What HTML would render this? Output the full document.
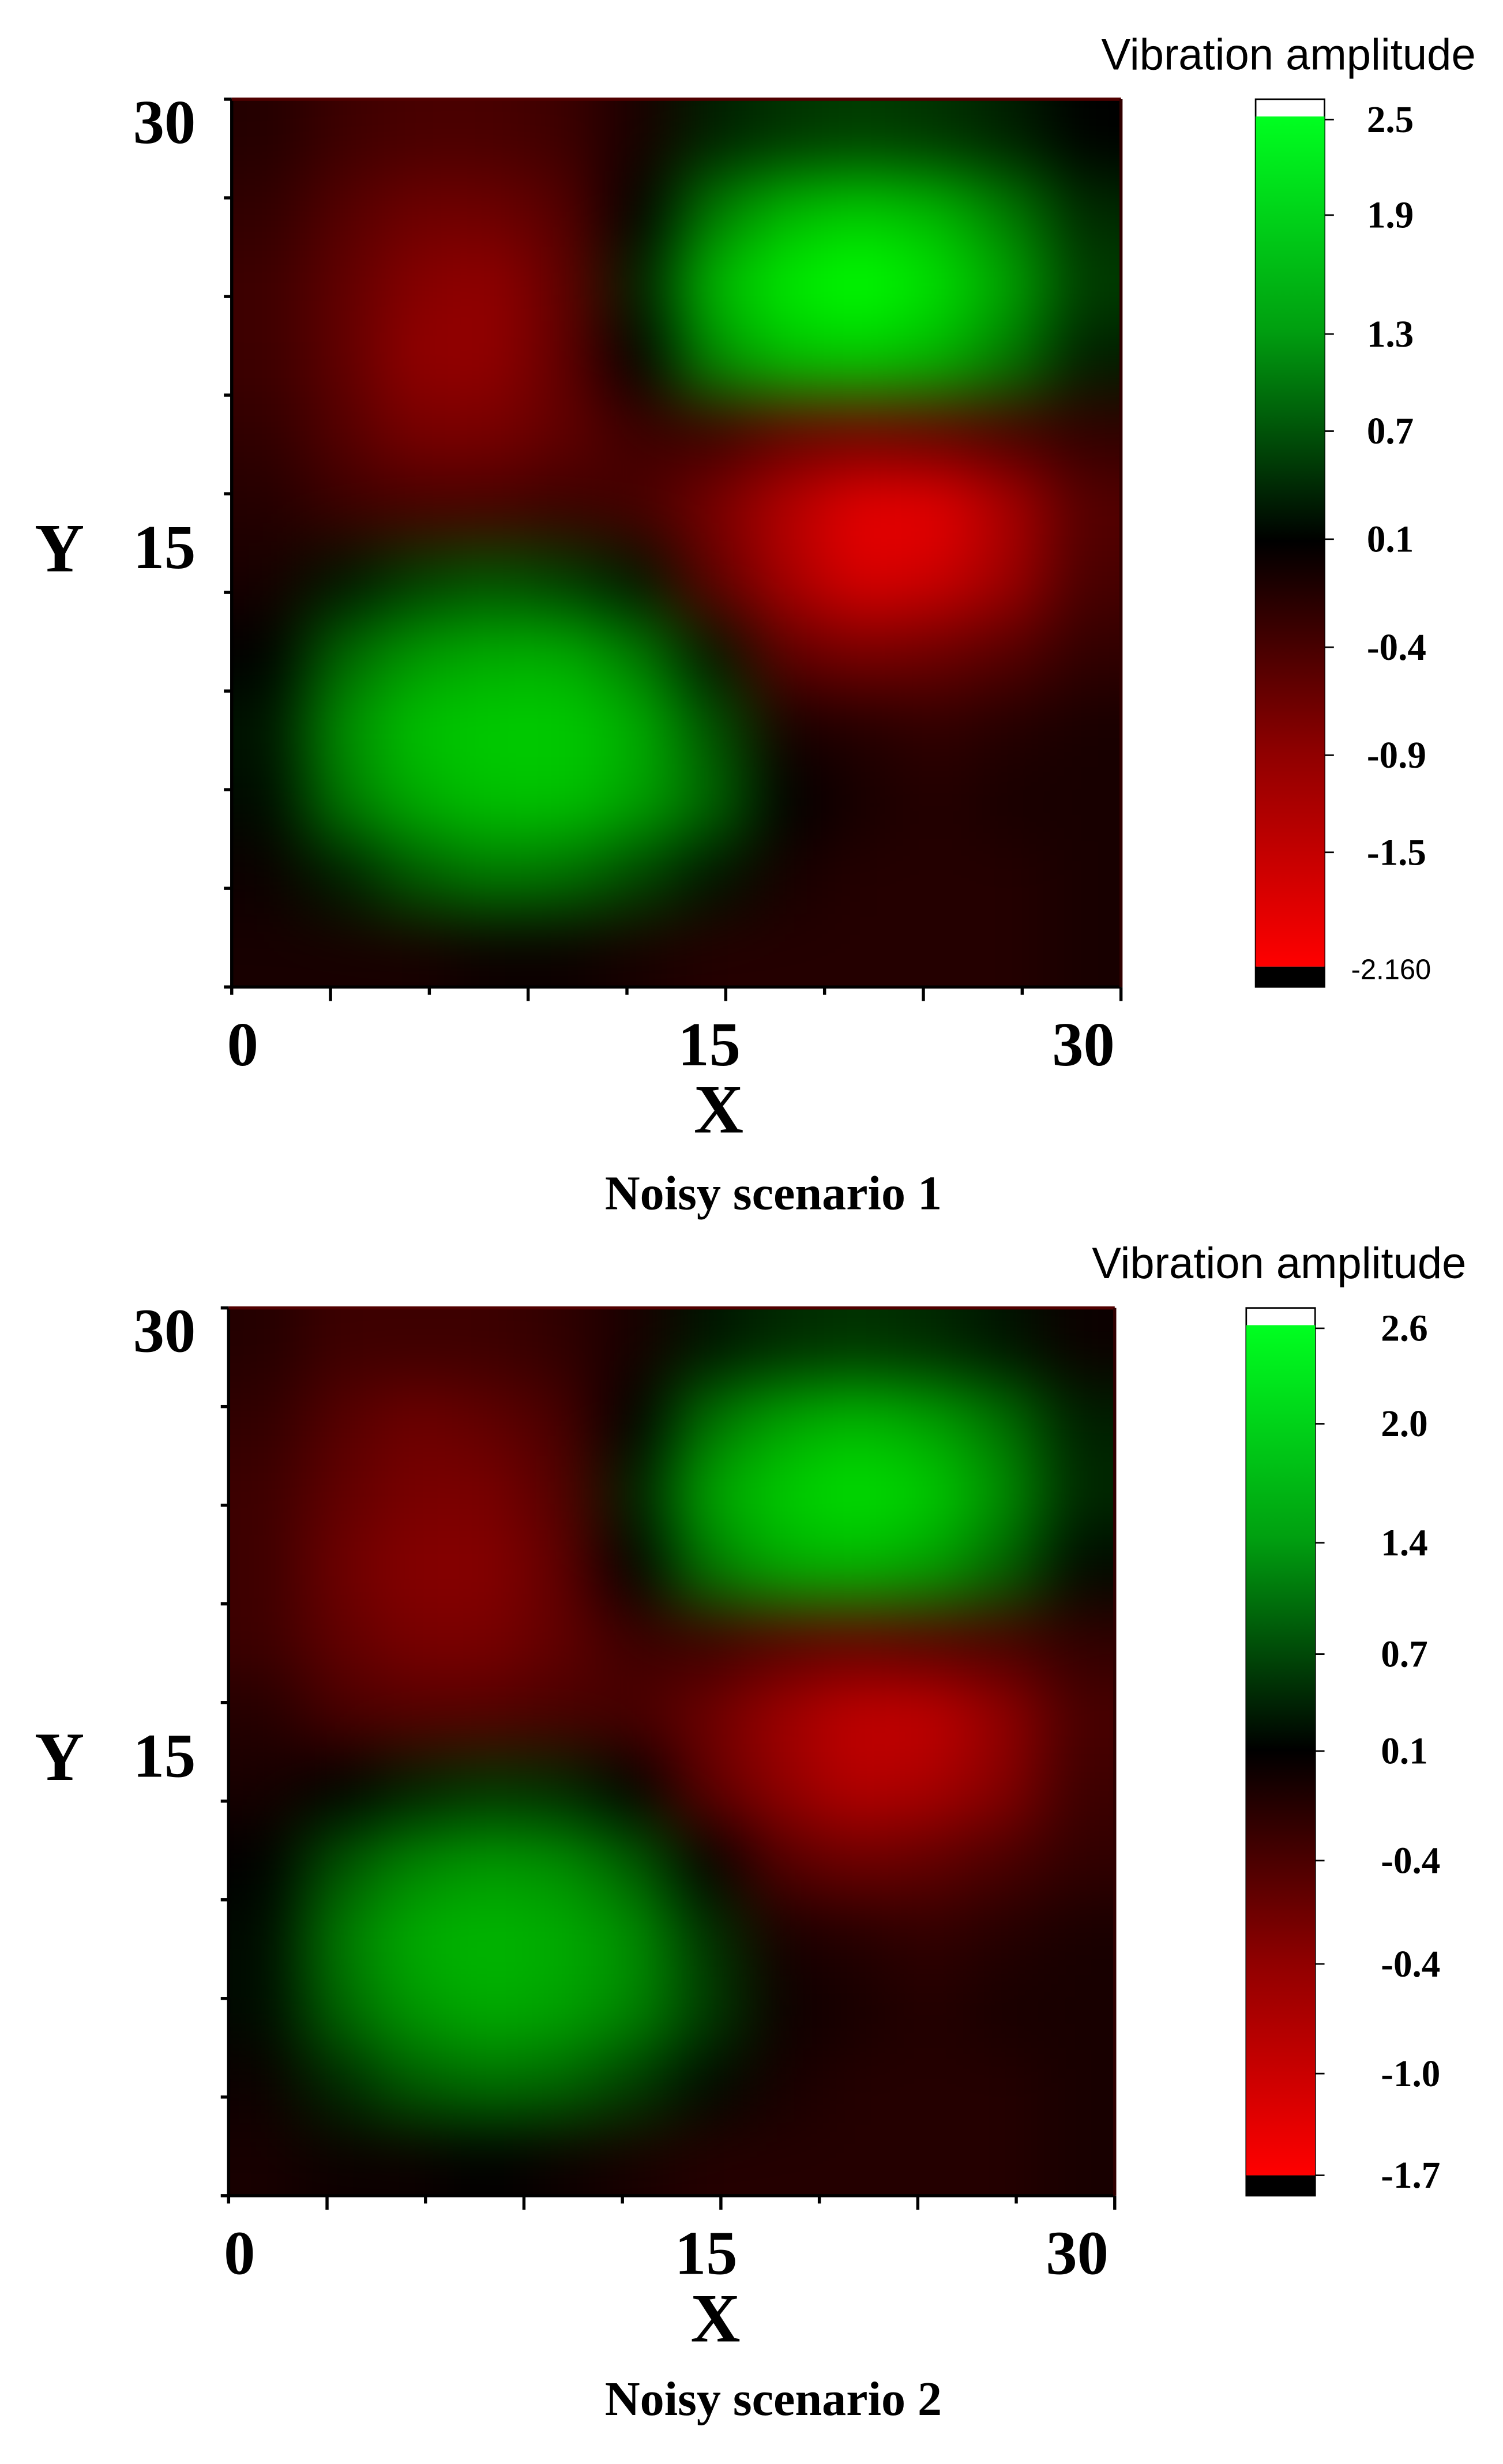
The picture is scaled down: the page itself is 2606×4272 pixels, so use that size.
<!DOCTYPE html>
<html><head><meta charset="utf-8"><style>
html,body{margin:0;padding:0;background:#fff;}
svg{display:block;}
.ax{font-family:"Liberation Serif",serif;font-weight:bold;fill:#000;}
.cb{font-family:"Liberation Serif",serif;font-weight:bold;font-size:24px;fill:#000;}
.tt{font-family:"Liberation Sans",sans-serif;fill:#000;}
</style></head><body>
<svg id="root" width="2606" height="4272" viewBox="0 0 960 1573" xmlns="http://www.w3.org/2000/svg">
<defs>
<filter id="blur" x="-20%" y="-20%" width="140%" height="140%" color-interpolation-filters="sRGB"><feGaussianBlur stdDeviation="20"/></filter>
<linearGradient id="cbg" x1="0" y1="0" x2="0" y2="1">
<stop offset="0" stop-color="#00ff20"/><stop offset="0.25" stop-color="#00a010"/><stop offset="0.5" stop-color="#000"/><stop offset="0.75" stop-color="#900000"/><stop offset="1" stop-color="#ff0000"/>
</linearGradient>
</defs>
</svg>
<script>
const grid1 = [
[-0.3,-0.5,-0.6,-0.6,-0.5,-0.2,0.3,0.5,0.6,0.5,0.3,0],
[-0.4,-0.7,-0.9,-0.9,-0.7,0,1.2,1.8,2.0,1.8,1.2,0.4],
[-0.5,-0.8,-1.1,-1.2,-0.8,0.3,1.8,2.3,2.5,2.2,1.6,0.6],
[-0.5,-0.8,-1.2,-1.2,-0.8,0,1.4,1.9,2.0,1.8,1.2,0.3],
[-0.4,-0.7,-1.0,-1.0,-0.8,-0.5,-0.5,-0.8,-0.9,-0.8,-0.6,-0.4],
[-0.3,-0.5,-0.6,-0.6,-0.5,-0.6,-1.0,-1.5,-1.9,-1.9,-1.4,-0.7],
[-0.2,0.2,0.6,0.8,0.6,0.2,-0.8,-1.4,-1.8,-1.7,-1.3,-0.6],
[0,1.0,1.5,1.7,1.7,1.2,0.2,-0.8,-1.0,-0.9,-0.7,-0.4],
[0.2,1.4,1.9,2.0,2.0,1.7,0.8,-0.2,-0.3,-0.4,-0.3,-0.2],
[0.1,1.2,1.7,1.9,1.9,1.6,1.0,0,-0.2,-0.3,-0.2,-0.2],
[-0.1,0.3,0.9,1.2,1.1,0.7,0.2,-0.2,-0.3,-0.3,-0.3,-0.2],
[-0.2,-0.2,-0.2,-0.1,-0.1,-0.2,-0.3,-0.3,-0.3,-0.3,-0.3,-0.2]];
const grid2 = [
[-0.3,-0.5,-0.5,-0.5,-0.4,-0.2,0.2,0.4,0.5,0.4,0.2,-0.1],
[-0.4,-0.7,-0.9,-0.8,-0.6,0,1.1,1.6,1.8,1.6,1.1,0.3],
[-0.5,-0.8,-1.0,-1.0,-0.7,0.3,1.6,2.0,2.2,2.0,1.4,0.4],
[-0.5,-0.9,-1.1,-1.1,-0.8,0,1.2,1.7,1.8,1.6,1.0,0.1],
[-0.5,-0.8,-1.0,-1.0,-0.8,-0.5,-0.5,-0.7,-0.8,-0.7,-0.6,-0.4],
[-0.3,-0.6,-0.7,-0.7,-0.6,-0.6,-0.9,-1.3,-1.6,-1.6,-1.2,-0.6],
[-0.2,0,0.3,0.5,0.4,0,-0.8,-1.2,-1.5,-1.4,-1.1,-0.5],
[0,0.8,1.3,1.5,1.4,0.9,0,-0.7,-0.9,-0.8,-0.6,-0.4],
[0.1,1.2,1.7,1.8,1.7,1.4,0.5,-0.2,-0.3,-0.4,-0.3,-0.2],
[0.1,1.0,1.5,1.7,1.6,1.3,0.6,-0.1,-0.2,-0.3,-0.2,-0.2],
[-0.1,0.4,0.9,1.1,1.0,0.6,0.1,-0.2,-0.3,-0.3,-0.3,-0.2],
[-0.2,-0.1,-0.1,0,-0.1,-0.2,-0.3,-0.3,-0.3,-0.3,-0.3,-0.2]];
const xTickLabels = ["0","15","30"];
const yTickLabels = ["30","15"];
const cbLabels1 = ["2.5","1.9","1.3","0.7","0.1","-0.4","-0.9","-1.5"];
const cbLabels2 = ["2.6","2.0","1.4","0.7","0.1","-0.4","-0.4","-1.0","-1.7"];
const NS = "http://www.w3.org/2000/svg";
const root = document.getElementById('root');
function mk(tag, attrs, parent){const e=document.createElementNS(NS,tag);for(const k in attrs)e.setAttribute(k,attrs[k]);(parent||root).appendChild(e);return e;}
function col(v){
  if(v>=0){const g=Math.min(255,Math.round(v/2.5*255));return `rgb(0,${g},0)`;}
  const r=Math.min(255,Math.round(-v/2.1*255));return `rgb(${r},0,0)`;
}
function panel(id, grid, P, cb, cbLabs, cbY, minLab, caption, cbx){
  const g=mk('g',{});  
  const clip=mk('clipPath',{id:id+'-clip'},g); mk('rect',{x:P.x,y:P.y,width:P.w,height:P.h},clip);
  const hm=mk('g',{'clip-path':`url(#${id}-clip)`},g);
   
  mk('rect',{x:P.x,y:P.y,width:P.w,height:P.h,fill:'#400000'},hm);
  const inner=mk('g',{filter:'url(#blur)'},hm);
  const n=grid.length, m=grid[0].length, cw=P.w/m, ch=P.h/n;
  for(let r=0;r<n;r++)for(let c=0;c<m;c++){
    let x=P.x+c*cw,y=P.y+r*ch,w=cw+0.5,h=ch+0.5;
    if(c===0){x-=cw*2;w+=cw*2;} if(c===m-1){w+=cw*2;}
    if(r===0){y-=ch*2;h+=ch*2;} if(r===n-1){h+=ch*2;}
    const e=mk('rect',{x,y,width:w,height:h,fill:col(grid[r][c])},inner);
    
    
  }
  const ax=mk('g',{stroke:'#000','stroke-width':2},g);
   
  mk('line',{x1:P.x,y1:P.y,x2:P.x,y2:P.y+P.h},ax);
  mk('line',{x1:P.x,y1:P.y+P.h,x2:P.x+P.w,y2:P.y+P.h},ax);
  mk('line',{x1:P.x,y1:P.y,x2:P.x+P.w,y2:P.y,stroke:'#500000'},ax);
  mk('line',{x1:P.x+P.w,y1:P.y,x2:P.x+P.w,y2:P.y+P.h,stroke:'#300000'},ax);
  for(let i=0;i<=9;i++){
    const y=P.y+i*P.h/9; mk('line',{x1:P.x-5,y1:y,x2:P.x,y2:y},ax);
    const x=P.x+i*P.w/9; mk('line',{x1:x,y1:P.y+P.h,x2:x,y2:P.y+P.h+(i%2?9:5)},ax);
  }
  const xs=[P.x+7,P.x+305,P.x+P.w-24];
  xTickLabels.forEach((t,i)=>{const e=mk('text',{x:xs[i],y:P.y+P.h+50,'font-size':40,'text-anchor':'middle',class:'ax'},g);e.textContent=t;});
  let e=mk('text',{x:P.x+311,y:P.y+P.h+93,'font-size':44,'text-anchor':'middle',class:'ax'},g);e.textContent='X';
  e=mk('text',{x:125,y:P.y+28,'font-size':40,'text-anchor':'end',class:'ax'},g);e.textContent=yTickLabels[0];
  e=mk('text',{x:125,y:P.y+P.h/2+16,'font-size':40,'text-anchor':'end',class:'ax'},g);e.textContent=yTickLabels[1];
  e=mk('text',{x:38,y:P.y+P.h/2+18,'font-size':44,'text-anchor':'middle',class:'ax'},g);e.textContent='Y';
  e=mk('text',{x:494,y:caption,'font-size':31,'text-anchor':'middle',class:'ax'},g);e.textContent='Noisy scenario '+id.slice(-1);
  const cg=mk('g',{},g);  
  mk('rect',{x:cb.x,y:cb.y,width:cb.w,height:cb.h,fill:'#fff',stroke:'#000','stroke-width':1},cg);
  mk('rect',{x:cb.x,y:cb.y+11,width:cb.w,height:cb.h-24,fill:'url(#cbg)'},cg);
  mk('rect',{x:cb.x,y:cb.y+cb.h-13,width:cb.w,height:13,fill:'#000'},cg);
  e=mk('text',{x:cb.x+21,y:cb.y-19,'text-anchor':'middle',class:'tt',style:'font-size:28px'},cg);e.textContent='Vibration amplitude';
  cbLabs.forEach((t,i)=>{const y=cbY[i];mk('line',{x1:cb.x+cb.w,y1:y,x2:cb.x+cb.w+6,y2:y,stroke:'#000','stroke-width':1},cg);
    const tx=mk('text',{x:cbx,y:y+8,class:'cb'},cg);tx.textContent=t;});
  if(minLab){const tx=mk('text',{x:cb.x+cb.w+17,y:cb.y+cb.h-5,class:'tt',style:'font-size:18px'},cg);tx.textContent=minLab;}
}
panel('scenario-1',grid1,{x:148,y:63,w:568,h:567},{x:802,y:63,w:44,h:567},cbLabels1,[76,137,213,275,344,413,482,544],'-2.160',772,873);
panel('scenario-2',grid2,{x:146,y:835,w:566,h:567},{x:796,y:835,w:44,h:567},cbLabels2,[848,909,985,1056,1118,1188,1254,1324,1389],null,1542,882);
</script>
</body></html>
